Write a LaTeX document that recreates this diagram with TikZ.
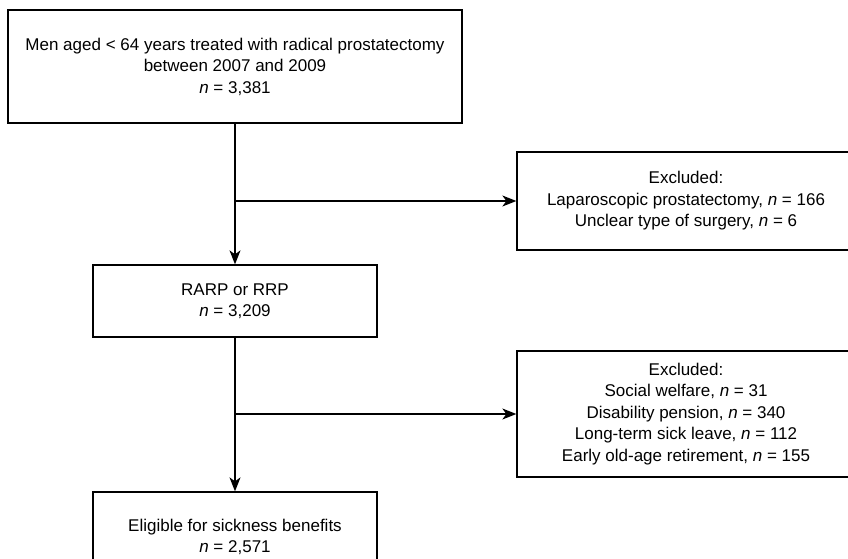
\documentclass[tikz,border=0pt]{standalone}
\usepackage{fontspec}
\setmainfont{Liberation Sans}
\usetikzlibrary{arrows.meta}
\tikzset{
  fbox/.style={draw=black, line width=1.3pt, fill=white, align=center, inner sep=0pt,
    font=\fontsize{17}{21.5}\selectfont},
  conn/.style={draw=black, line width=1.3pt},
  arr/.style={conn, -{Stealth[length=14pt,width=11pt,inset=4pt]}}
}
\begin{document}
\begin{tikzpicture}[x=1pt,y=-1pt]
\useasboundingbox (0,0) rectangle (848,559);
\clip (0,0) rectangle (848,559);
\fill[white] (0,0) rectangle (848,559);
\node[fbox, minimum width=454pt, minimum height=113pt] (a) at (235,66.5)
  {Men aged < 64 years treated with radical prostatectomy\\between 2007 and 2009\\\textit{n} = 3,381};
\node[fbox, minimum width=284pt, minimum height=72pt] (b) at (235,301)
  {RARP or RRP\\\textit{n} = 3,209};
\node[fbox, minimum width=284pt, minimum height=90pt] (c) at (235,537)
  {Eligible for sickness benefits\\\textit{n} = 2,571};
\node[fbox, minimum width=338pt, minimum height=98pt] (e1) at (686,201)
  {Excluded:\\Laparoscopic prostatectomy, \textit{n} = 166\\Unclear type of surgery, \textit{n} = 6};
\node[fbox, minimum width=338pt, minimum height=126pt] (e2) at (686,414)
  {Excluded:\\Social welfare, \textit{n} = 31\\Disability pension, \textit{n} = 340\\Long-term sick leave, \textit{n} = 112\\Early old-age retirement, \textit{n} = 155};
\coordinate (j1) at (a.south |- e1.west);
\coordinate (j2) at (b.south |- e2.west);
\draw[arr] (a.south) -- (b.north);
\draw[arr] (b.south) -- (c.north);
\draw[arr] (j1) -- (e1.west);
\draw[arr] (j2) -- (e2.west);
\end{tikzpicture}
\end{document}
